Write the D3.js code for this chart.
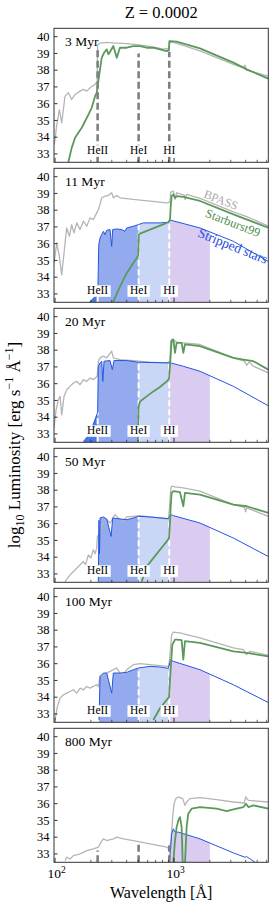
<html>
<head>
    <meta charset="utf-8">
    <script src="https://cdn.jsdelivr.net/npm/d3@7"></script>
    <style>
        body { margin: 0; background: #fff; }
        svg text { font-family: "Liberation Serif", "Times New Roman", Times, "DejaVu Serif", serif; fill: #000; }
        path.bpass { fill: none; stroke: #b5b5b5; stroke-width: 1.3px; stroke-linejoin: round; }
        path.sb99 { fill: none; stroke: #5b995b; stroke-width: 1.8px; stroke-linejoin: round; }
        path.strip { fill: none; stroke: #2356e0; stroke-width: 1px; stroke-linejoin: round; }
    </style>
</head>
<body>
<script>

    var ages = ["3 Myr", "11 Myr", "20 Myr", "50 Myr", "100 Myr", "800 Myr"];
    var edges = [228, 504, 912];
    var edgeNames = ["HeII", "HeI", "HI"];
    var yTicks = [33, 34, 35, 36, 37, 38, 39, 40];
    var xMajor = [100, 1000];
    var xMinor = [200, 300, 400, 500, 600, 700, 800, 900, 2000, 3000, 4000, 5000, 6000];

    // [wavelength (A), log10 L]
    var bpass_3 = [[98,33.56],[100,33.86],[103,34.65],[108.7,35.65],[113.8,34.85],[121.3,36.45],[129.4,36.65],[138,36.25],[147.3,36.55],[162.3,36.75],[173.1,36.85],[184.7,36.75],[196.9,36.95],[216.9,37.15],[226,37.35],[228,39.5],[239,39.62],[272,39.66],[330,39.62],[400,39.58],[485,39.52],[589,39.45],[714,39.35],[813,39.25],[868,39.3],[900,39.2],[912,39.45],[925,39.7],[1052,39.6],[1652,39.15],[3156,38.35],[3800,38.15],[3950,38.3],[4081,38.0],[6200,37.65]];
    var sb99_3 = [[129.4,32.52],[138,33.36],[147.3,33.96],[157.1,34.26],[167.6,34.56],[178.8,34.95],[190.7,35.35],[203.4,35.75],[216.9,36.45],[224,36.65],[234.4,37.65],[246.7,38.74],[258,39.04],[272,39.24],[281,38.95],[290,39.1],[309,39.44],[330,38.74],[351,39.34],[400,39.34],[455,39.44],[518,39.44],[589,39.34],[670,39.34],[762,39.24],[868,39.14],[905,39.2],[914,39.74],[1052,39.7],[1652,39.3],[3156,38.45],[4081,38.05],[6200,37.5]];
    var strip_3 = [];

    var bpass_11 = [[98,34.84],[103.3,36.04],[108.7,35.24],[113.8,34.14],[119,35.44],[125.3,36.94],[131.9,36.44],[138,37.14],[144.4,36.64],[152.1,37.24],[162.3,36.84],[173.1,37.34],[184.7,37.04],[196.9,37.54],[210,37.44],[224,37.84],[231.4,38.04],[238.9,38.34],[246.7,38.74],[263.2,38.84],[280.7,38.88],[299.3,39.04],[309,38.74],[329.6,38.88],[351.5,38.74],[455,38.64],[628.6,38.54],[867.6,38.44],[925,38.48],[938,39.08],[987,39.14],[1019,38.64],[1052,39.04],[1220,38.9],[1236,38.64],[1276,38.94],[1652,38.7],[3156,37.9],[4081,37.62],[6200,37.05]];
    var sb99_11 = [[309,32.54],[351.5,33.44],[399.8,34.24],[455,34.84],[500,35.28],[506,36.54],[518,36.6],[628.6,36.84],[762.5,37.08],[896,37.28],[925,37.44],[938,38.24],[955,38.84],[987,38.94],[1019,38.74],[1052,38.84],[1197,38.8],[1652,38.55],[3156,37.75],[6200,36.95]];
    var strip_11 = [[196.9,32.54],[216.9,32.84],[229,33.14],[233,35.94],[238.9,36.34],[246.7,36.54],[254.8,36.74],[263.2,36.54],[271.8,36.8],[289.8,36.84],[299.3,35.84],[305,36.84],[329.6,36.88],[363,36.84],[387,36.74],[399.8,36.94],[455,37.04],[502,37.14],[552.5,37.24],[762.5,37.24],[896,37.28],[938,37.4],[1652,36.94],[3156,36.14],[6200,34.94]];

    var bpass_20 = [[98,33.34],[102,34.44],[106.7,35.04],[110.2,35.24],[113.8,34.14],[119,35.24],[125.3,35.64],[133.6,35.84],[142.6,36.04],[152.1,36.14],[162.3,35.94],[173.1,36.24],[184.7,36.14],[196.9,36.34],[210,36.24],[226,36.44],[231.4,37.34],[238.9,37.54],[254.8,37.64],[271.8,37.54],[299.3,37.94],[309,37.54],[351.5,37.44],[455,37.38],[628.6,37.28],[867.6,37.24],[925,37.34],[938,38.54],[955,38.64],[1019,38.54],[1052,38.48],[1197,38.44],[1652,38.34],[3156,37.54],[3900,37.35],[4081,37.1],[4300,37.3],[4645,37.04],[6200,36.64]];
    var sb99_20 = [[497,32.54],[504,34.64],[518,34.94],[589,35.24],[670,35.54],[762,35.8],[868,36.14],[908,36.28],[925,37.04],[938,37.74],[955,38.54],[987,38.64],[1019,37.84],[1052,38.44],[1159,38.44],[1197,37.84],[1236,38.34],[1652,38.24],[3156,37.54],[3831,37.44],[4645,37.34],[6200,36.84]];
    var strip_20 = [[173.1,32.54],[196.9,33.04],[224,34.14],[228,34.3],[231,37.0],[238.9,37.24],[246.7,37.34],[252,36.14],[258,37.34],[289.8,37.38],[303,36.84],[313,37.38],[399.8,37.38],[502,37.28],[938,37.24],[1197,37.04],[1652,36.74],[3156,35.84],[6200,34.68]];

    var bpass_50 = [[121.3,32.54],[133.6,32.94],[152.1,33.34],[173.1,33.74],[180,33.55],[190.7,34.14],[200,33.95],[210,34.44],[217,34.2],[224,34.54],[227,35.24],[238.9,35.44],[246.7,35.84],[254.8,36.04],[271.8,36.24],[289.8,36.04],[319,36.54],[340,36.34],[375,36.14],[400,36.4],[455,36.44],[518,36.48],[628.6,36.4],[762,36.34],[896,36.28],[914,36.84],[938,38.04],[955,38.24],[1019,38.2],[1197,38.14],[1652,37.94],[3156,37.14],[3900,36.98],[4000,36.7],[4081,36.94],[6200,36.44]];
    var sb99_50 = [[535,32.54],[589,33.44],[670,33.94],[762,34.44],[868,34.94],[908,35.14],[925,36.04],[938,37.04],[955,37.84],[987,37.94],[1122,37.88],[1197,37.04],[1236,37.84],[1652,37.74],[3156,37.14],[4081,37.04],[6200,36.64]];
    var strip_50 = [[231,32.54],[234,36.2],[236.5,34.2],[239,36.34],[254.8,36.4],[271.8,36.28],[296,35.24],[305,36.34],[351.5,36.28],[400,36.24],[455,36.34],[502,36.44],[628.6,36.4],[896,36.3],[938,36.54],[987,36.48],[1652,36.04],[3156,35.14],[6200,34.04]];

    var bpass_100 = [[100,32.64],[104.6,33.44],[110.2,33.94],[117.5,34.14],[125.3,34.24],[133.6,34.34],[142.6,34.44],[152.1,34.24],[162.3,34.54],[173.1,34.44],[184.7,34.64],[196.9,34.54],[210,34.64],[224,34.74],[231.4,34.64],[238.9,35.24],[254.8,35.34],[271.8,35.44],[289.8,35.54],[309,35.64],[329.6,35.74],[351.5,35.44],[375,35.34],[400,35.64],[455,35.94],[518,36.0],[628.6,35.94],[762,35.88],[896,35.84],[914,36.14],[938,37.04],[955,37.74],[987,37.88],[1122,37.84],[1276,37.74],[1652,37.54],[3156,36.94],[3831,36.84],[4081,36.54],[4353,36.74],[6200,36.5]];
    var sb99_100 = [[670,32.64],[762,33.34],[868,33.84],[908,34.0],[925,35.04],[944,36.04],[968,37.14],[1019,37.44],[1052,37.44],[1159,37.4],[1197,36.24],[1236,37.34],[1652,37.24],[3156,36.74],[4081,36.64],[6200,36.44]];
    var strip_100 = [[234.4,32.64],[238.9,35.24],[254.8,35.44],[271.8,35.44],[299.3,34.24],[309,35.44],[351.5,35.44],[400,35.48],[455,35.64],[502,35.74],[628.6,35.84],[762,35.8],[896,35.72],[938,36.24],[987,36.14],[1652,35.64],[3156,34.74],[6200,33.68]];

    var bpass_800 = [[121.3,32.6],[125.3,32.8],[133.6,32.7],[142.6,32.9],[162.3,33.0],[184.7,33.2],[210,33.3],[231.4,33.4],[238.9,33.6],[254.8,33.9],[271.8,33.8],[309,33.9],[329.6,34.0],[375,33.9],[455,33.8],[628.6,33.6],[867.6,33.4],[914,33.3],[944,33.8],[974,35.2],[1000,36.0],[1035,36.3],[1087,36.4],[1183,36.3],[1236,35.9],[1276,36.1],[1361,36.3],[1652,36.36],[2285,36.24],[3156,36.1],[3900,36.04],[4000,36.4],[4215,36.2],[6200,36.1]];
    var sb99_800 = [[987,32.5],[1019,33.8],[1052,34.6],[1087,35.0],[1122,35.2],[1159,34.6],[1183,32.4],[1236,32.4],[1276,34.6],[1318,35.4],[1406,35.7],[1652,35.8],[2285,35.7],[2774,35.56],[3156,35.66],[3831,35.8],[4027,36.0],[4215,35.8],[4645,35.9],[6200,35.7]];
    var strip_800 = [[914,32.5],[938,33.4],[955,34.2],[987,34.5],[1019,34.3],[1087,34.3],[1652,33.9],[3156,33.06],[3954,32.8],[4081,32.84],[4795,32.5],[5000,32.4]];

    // heights of the grey edge markers in the first and last panel
    var edgeTop_3 = [39.2, 39.0, 39.1];
    var edgeTop_800 = [33.2, 33.75, 33.5];

    var bpass = [bpass_3, bpass_11, bpass_20, bpass_50, bpass_100, bpass_800];
    var sb99 = [sb99_3, sb99_11, sb99_20, sb99_50, sb99_100, sb99_800];
    var strip = [strip_3, strip_11, strip_20, strip_50, strip_100, strip_800];

    // ionizing regions under the stripped star spectrum
    var regions = [[0, 228, "#4a78e6"], [228, 504, "#93abee"], [504, 912, "#c9d6f5"], [912, 2000, "#dacbf1"]];

    var width = 274, height = 911;
    var left = 54, right = 268.3, top0 = 28.3, step = 140, ph = 134;
    var serif = "'Liberation Serif', 'Times New Roman', Times, 'DejaVu Serif', serif";

    var svg = d3.select("body").append("svg")
        .attr("width", width)
        .attr("height", height)
        .attr("font-family", serif)
        .style("font-family", serif);

    var x = d3.scaleLog().domain([98, 6200]).range([left, right]);
    var y = d3.scaleLinear().domain([32.5, 40.5]).range([ph, 0]);

    svg.append("clipPath").attr("id", "clip")
        .append("rect")
        .attr("x", left).attr("y", 0)
        .attr("width", right - left).attr("height", ph);

    var line = d3.line()
        .x(function (d) { return x(d[0]); })
        .y(function (d) { return y(d[1]); });

    var area = d3.area()
        .x(function (d) { return x(d[0]); })
        .y0(ph + 2)
        .y1(function (d) { return y(d[1]); });

    function interp(spec, w) {
        for (var i = 0; i < spec.length - 1; i++) {
            if (spec[i][0] <= w && spec[i + 1][0] >= w) {
                var t = (Math.log(w) - Math.log(spec[i][0])) / (Math.log(spec[i + 1][0]) - Math.log(spec[i][0]));
                return spec[i][1] + t * (spec[i + 1][1] - spec[i][1]);
            }
        }
        return null;
    }

    function slice(spec, a, b) {
        var pts = [];
        if (!spec.length) return pts;
        var va = interp(spec, a);
        if (va !== null) pts.push([a, va]);
        spec.forEach(function (p) {
            if (p[0] > a && p[0] < b) pts.push(p);
        });
        var vb = interp(spec, b);
        if (vb !== null) pts.push([b, vb]);
        return pts;
    }

    svg.append("text")
        .attr("x", (left + right) / 2)
        .attr("y", 18)
        .attr("text-anchor", "middle")
        .style("font-size", "16.5px")
        .text("Z = 0.0002");

    ages.forEach(function (age, k) {
        var g = svg.append("g").attr("transform", "translate(0," + (top0 + k * step) + ")");
        var c = g.append("g").attr("clip-path", "url(#clip)");

        // shaded ionizing regions
        regions.forEach(function (r) {
            var pts = slice(strip[k], r[0], r[1]);
            if (pts.length > 1) {
                c.append("path").attr("d", area(pts)).style("fill", r[2]).style("stroke", "none");
            }
        });

        // white edge lines on the shading
        if (k > 0 && k < 5) {
            edges.forEach(function (e) {
                var v = interp(strip[k], e);
                if (v === null) return;
                c.append("line")
                    .attr("x1", x(e)).attr("x2", x(e))
                    .attr("y1", ph).attr("y2", y(v))
                    .style("stroke", "#fff").style("stroke-width", 2)
                    .style("stroke-dasharray", "6,3");
            });
        }

        c.append("path").attr("class", "bpass").attr("d", line(bpass[k]));
        if (strip[k].length) c.append("path").attr("class", "strip").attr("d", line(strip[k]));
        c.append("path").attr("class", "sb99").attr("d", line(sb99[k]));

        // grey edge markers
        var tops = k === 0 ? edgeTop_3 : (k === 5 ? edgeTop_800 : null);
        if (tops) {
            edges.forEach(function (e, i) {
                c.append("line")
                    .attr("x1", x(e)).attr("x2", x(e))
                    .attr("y1", ph).attr("y2", y(tops[i]))
                    .style("stroke", "#7f7f7f").style("stroke-width", 2.6)
                    .style("stroke-dasharray", "7,3.5");
            });
        }

        // edge labels
        if (k < 5) {
            edges.forEach(function (e, i) {
                var t = g.append("text")
                    .attr("x", x(e)).attr("y", 126)
                    .attr("text-anchor", "middle")
                    .style("font-size", "11.5px")
                    .text(edgeNames[i]);
                var w = t.node().getComputedTextLength();
                g.insert("rect", function () { return t.node(); })
                    .attr("x", x(e) - w / 2 - 2.5).attr("y", 117)
                    .attr("width", w + 5).attr("height", 11.5)
                    .style("fill", "#fff");
            });
        }

        if (k === 1) {
            g.append("text").attr("transform", "translate(221,31.5) rotate(21)")
                .attr("text-anchor", "middle").attr("dy", "0.35em")
                .style("font-size", "12px").style("fill", "#aaaaaa").text("BPASS");
            g.append("text").attr("transform", "translate(233,54.5) rotate(21)")
                .attr("text-anchor", "middle").attr("dy", "0.35em")
                .style("font-size", "12.5px").style("fill", "#4f8f4f").text("Starburst99");
            g.append("text").attr("transform", "translate(233,77.5) rotate(22)")
                .attr("text-anchor", "middle").attr("dy", "0.35em")
                .style("font-size", "13.5px").style("fill", "#1f4fe0").text("Stripped stars");
        }

        g.append("text")
            .attr("x", 65).attr("y", 18)
            .style("font-size", "13.5px")
            .text(age);

        // ticks (pointing inwards)
        yTicks.forEach(function (t) {
            g.append("line").attr("x1", left).attr("x2", left + 3.5)
                .attr("y1", y(t)).attr("y2", y(t))
                .style("stroke", "#000").style("stroke-width", 0.8);
            g.append("text").attr("x", 49.5).attr("y", y(t)).attr("dy", "0.34em")
                .attr("text-anchor", "end").style("font-size", "12.5px").text(t);
        });
        xMajor.forEach(function (t) {
            g.append("line").attr("x1", x(t)).attr("x2", x(t))
                .attr("y1", ph).attr("y2", ph - 4.5)
                .style("stroke", "#000").style("stroke-width", 0.8);
        });
        xMinor.forEach(function (t) {
            g.append("line").attr("x1", x(t)).attr("x2", x(t))
                .attr("y1", ph).attr("y2", ph - 2.5)
                .style("stroke", "#000").style("stroke-width", 0.6);
        });

        g.append("rect")
            .attr("x", left).attr("y", 0)
            .attr("width", right - left).attr("height", ph)
            .style("fill", "none").style("stroke", "#333").style("stroke-width", 1);

        if (k === 5) {
            xMajor.forEach(function (t) {
                var lab = g.append("text").attr("x", x(t) + 1.5).attr("y", ph + 16)
                    .attr("text-anchor", "middle").style("font-size", "13.5px");
                lab.append("tspan").text("10");
                lab.append("tspan").attr("dy", -5.5).style("font-size", "9.5px").text(Math.log10(t));
            });
        }
    });

    svg.append("text")
        .attr("x", (left + right) / 2)
        .attr("y", 898)
        .attr("text-anchor", "middle")
        .style("font-size", "16px")
        .text("Wavelength [\u00c5]");

    var yl = svg.append("text")
        .attr("transform", "translate(20,445) rotate(-90)")
        .attr("text-anchor", "middle")
        .style("font-size", "17px");
    yl.append("tspan").text("log");
    yl.append("tspan").attr("dy", 4).style("font-size", "12px").text("10");
    yl.append("tspan").attr("dy", -4).text(" Luminosity [erg s");
    yl.append("tspan").attr("dy", -7).style("font-size", "12px").text("\u22121");
    yl.append("tspan").attr("dy", 7).text(" \u00c5");
    yl.append("tspan").attr("dy", -7).style("font-size", "12px").text("\u22121");
    yl.append("tspan").attr("dy", 7).text("]");

</script>
</body>
</html>
